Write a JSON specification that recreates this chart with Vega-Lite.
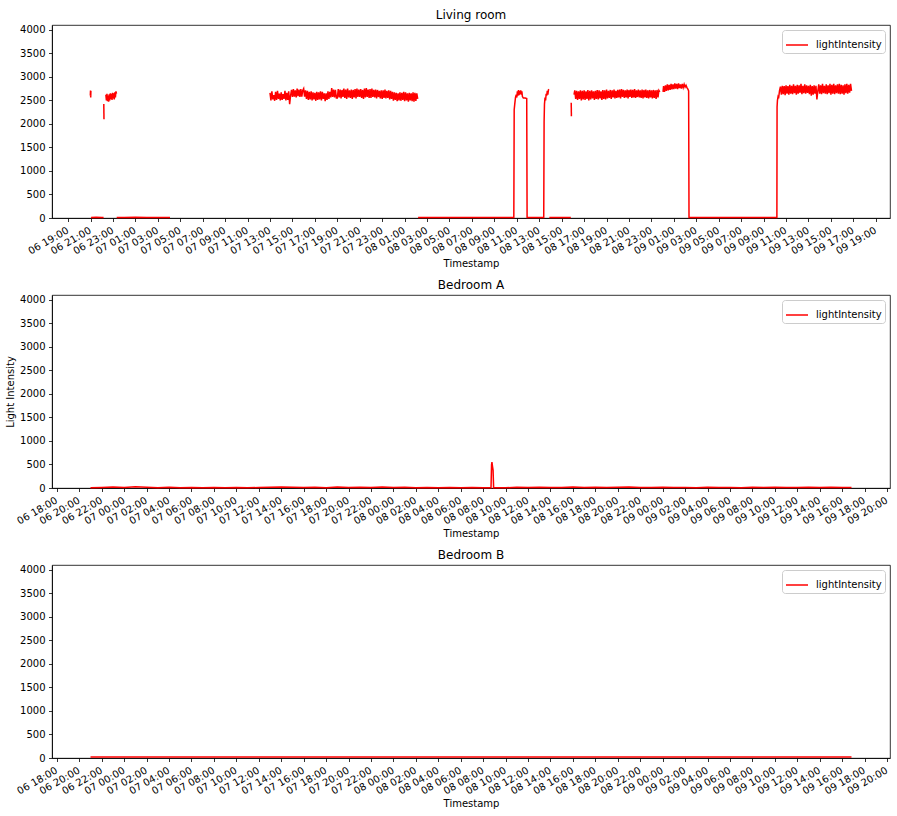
{
"$schema": "https://vega.github.io/schema/vega-lite/v6.json",
"background": "white",
"padding": {"left": 5, "top": 8, "right": 6, "bottom": 3},
"spacing": 9,
"config": {
  "font": "DejaVu Sans",
  "view": {"stroke": "#000000", "strokeWidth": 0.8},
  "axis": {"domainColor": "#000000", "domainWidth": 0.8, "tickColor": "#000000", "tickWidth": 0.8, "tickSize": 3.5, "labelColor": "#000000", "titleColor": "#000000", "labelFontSize": 10, "titleFontSize": 10, "titleFontWeight": "normal", "grid": false, "labelPadding": 3.5},
  "axisX": {"labelAngle": -30, "labelAlign": "right", "labelBaseline": "top", "labelOverlap": false, "labelFlush": false, "titlePadding": 2, "labelOffset": -3},
  "axisY": {"labelOverlap": false, "titlePadding": 4, "format": "d"},
  "title": {"fontSize": 12, "fontWeight": "normal", "color": "#000000", "offset": 3},
  "legend": {"orient": "top-right", "offset": 5, "symbolType": "stroke", "symbolSize": 484, "symbolStrokeWidth": 1.5, "labelFontSize": 10, "labelColor": "#000000", "strokeColor": "#cccccc", "fillColor": "#ffffff", "padding": 3, "cornerRadius": 3, "labelOffset": 7}
},
"resolve": {"scale": {"color": "independent"}, "legend": {"color": "independent"}},
"datasets": {
"living": [
{"s":1,"t":"2020-01-06T20:59","v":2600},{"s":1,"t":"2020-01-06T21:00","v":2710},{"s":1,"t":"2020-01-06T21:01","v":2560},{"s":1,"t":"2020-01-06T21:02","v":2700},
{"s":2,"t":"2020-01-06T21:03","v":10},{"s":2,"t":"2020-01-06T21:30","v":14},{"s":2,"t":"2020-01-06T22:00","v":10},{"s":2,"t":"2020-01-06T22:10","v":12},
{"s":3,"t":"2020-01-06T22:11","v":2420},{"s":3,"t":"2020-01-06T22:12","v":2100},
{"s":4,"t":"2020-01-06T22:22","v":2620},{"s":4,"t":"2020-01-06T22:25","v":2500},{"s":4,"t":"2020-01-06T22:28","v":2640},{"s":4,"t":"2020-01-06T22:31","v":2480},{"s":4,"t":"2020-01-06T22:34","v":2600},{"s":4,"t":"2020-01-06T22:37","v":2470},{"s":4,"t":"2020-01-06T22:40","v":2630},{"s":4,"t":"2020-01-06T22:43","v":2500},{"s":4,"t":"2020-01-06T22:46","v":2650},{"s":4,"t":"2020-01-06T22:49","v":2530},{"s":4,"t":"2020-01-06T22:52","v":2640},{"s":4,"t":"2020-01-06T22:55","v":2510},{"s":4,"t":"2020-01-06T22:58","v":2660},{"s":4,"t":"2020-01-06T23:01","v":2540},{"s":4,"t":"2020-01-06T23:04","v":2650},{"s":4,"t":"2020-01-06T23:07","v":2520},{"s":4,"t":"2020-01-06T23:10","v":2670},{"s":4,"t":"2020-01-06T23:13","v":2560},{"s":4,"t":"2020-01-06T23:16","v":2690},{"s":4,"t":"2020-01-06T23:19","v":2640},
{"s":5,"t":"2020-01-06T23:20","v":12},{"s":5,"t":"2020-01-07T00:00","v":10},{"s":5,"t":"2020-01-07T01:00","v":14},{"s":5,"t":"2020-01-07T02:00","v":10},{"s":5,"t":"2020-01-07T03:00","v":13},{"s":5,"t":"2020-01-07T04:05","v":10},
{"s":6,"t":"2020-01-07T13:00","v":2660},{"s":6,"t":"2020-01-07T13:05","v":2500},{"s":6,"t":"2020-01-07T13:10","v":2690},{"s":6,"t":"2020-01-07T13:15","v":2520},{"s":6,"t":"2020-01-07T13:20","v":2610},{"s":6,"t":"2020-01-07T13:25","v":2490},{"s":6,"t":"2020-01-07T13:30","v":2680},{"s":6,"t":"2020-01-07T13:35","v":2510},{"s":6,"t":"2020-01-07T13:40","v":2700},{"s":6,"t":"2020-01-07T13:45","v":2530},{"s":6,"t":"2020-01-07T13:50","v":2640},{"s":6,"t":"2020-01-07T13:55","v":2500},
{"s":6,"t":"2020-01-07T14:00","v":2670},{"s":6,"t":"2020-01-07T14:05","v":2510},{"s":6,"t":"2020-01-07T14:10","v":2630},{"s":6,"t":"2020-01-07T14:15","v":2530},{"s":6,"t":"2020-01-07T14:20","v":2700},{"s":6,"t":"2020-01-07T14:25","v":2500},{"s":6,"t":"2020-01-07T14:30","v":2660},{"s":6,"t":"2020-01-07T14:35","v":2510},{"s":6,"t":"2020-01-07T14:40","v":2690},{"s":6,"t":"2020-01-07T14:45","v":2420},{"s":6,"t":"2020-01-07T14:50","v":2600},{"s":6,"t":"2020-01-07T14:55","v":2720},
{"s":6,"t":"2020-01-07T15:00","v":2570},{"s":6,"t":"2020-01-07T15:05","v":2740},{"s":6,"t":"2020-01-07T15:10","v":2580},{"s":6,"t":"2020-01-07T15:15","v":2710},{"s":6,"t":"2020-01-07T15:20","v":2560},{"s":6,"t":"2020-01-07T15:25","v":2750},{"s":6,"t":"2020-01-07T15:30","v":2590},{"s":6,"t":"2020-01-07T15:35","v":2730},{"s":6,"t":"2020-01-07T15:40","v":2570},{"s":6,"t":"2020-01-07T15:45","v":2740},{"s":6,"t":"2020-01-07T15:50","v":2580},{"s":6,"t":"2020-01-07T15:55","v":2710},
{"s":6,"t":"2020-01-07T16:00","v":2750},{"s":6,"t":"2020-01-07T16:05","v":2580},{"s":6,"t":"2020-01-07T16:10","v":2710},{"s":6,"t":"2020-01-07T16:15","v":2530},{"s":6,"t":"2020-01-07T16:20","v":2700},{"s":6,"t":"2020-01-07T16:25","v":2510},{"s":6,"t":"2020-01-07T16:30","v":2680},{"s":6,"t":"2020-01-07T16:35","v":2520},{"s":6,"t":"2020-01-07T16:40","v":2690},{"s":6,"t":"2020-01-07T16:45","v":2500},{"s":6,"t":"2020-01-07T16:50","v":2670},{"s":6,"t":"2020-01-07T16:55","v":2520},
{"s":6,"t":"2020-01-07T17:00","v":2660},{"s":6,"t":"2020-01-07T17:05","v":2490},{"s":6,"t":"2020-01-07T17:10","v":2680},{"s":6,"t":"2020-01-07T17:15","v":2510},{"s":6,"t":"2020-01-07T17:20","v":2670},{"s":6,"t":"2020-01-07T17:25","v":2520},{"s":6,"t":"2020-01-07T17:30","v":2690},{"s":6,"t":"2020-01-07T17:35","v":2500},{"s":6,"t":"2020-01-07T17:40","v":2680},{"s":6,"t":"2020-01-07T17:45","v":2530},{"s":6,"t":"2020-01-07T17:50","v":2650},{"s":6,"t":"2020-01-07T17:55","v":2480},
{"s":6,"t":"2020-01-07T18:00","v":2650},{"s":6,"t":"2020-01-07T18:05","v":2510},{"s":6,"t":"2020-01-07T18:10","v":2690},{"s":6,"t":"2020-01-07T18:15","v":2530},{"s":6,"t":"2020-01-07T18:20","v":2680},{"s":6,"t":"2020-01-07T18:25","v":2560},{"s":6,"t":"2020-01-07T18:30","v":2760},{"s":6,"t":"2020-01-07T18:35","v":2570},{"s":6,"t":"2020-01-07T18:40","v":2730},{"s":6,"t":"2020-01-07T18:45","v":2560},{"s":6,"t":"2020-01-07T18:50","v":2720},{"s":6,"t":"2020-01-07T18:55","v":2550},
{"s":6,"t":"2020-01-07T19:00","v":2550},{"s":6,"t":"2020-01-07T19:05","v":2740},{"s":6,"t":"2020-01-07T19:10","v":2560},{"s":6,"t":"2020-01-07T19:15","v":2730},{"s":6,"t":"2020-01-07T19:20","v":2540},{"s":6,"t":"2020-01-07T19:25","v":2720},{"s":6,"t":"2020-01-07T19:30","v":2570},{"s":6,"t":"2020-01-07T19:35","v":2750},{"s":6,"t":"2020-01-07T19:40","v":2550},{"s":6,"t":"2020-01-07T19:45","v":2730},{"s":6,"t":"2020-01-07T19:50","v":2530},{"s":6,"t":"2020-01-07T19:55","v":2750},
{"s":6,"t":"2020-01-07T20:00","v":2560},{"s":6,"t":"2020-01-07T20:05","v":2710},{"s":6,"t":"2020-01-07T20:10","v":2550},{"s":6,"t":"2020-01-07T20:15","v":2730},{"s":6,"t":"2020-01-07T20:20","v":2530},{"s":6,"t":"2020-01-07T20:25","v":2720},{"s":6,"t":"2020-01-07T20:30","v":2560},{"s":6,"t":"2020-01-07T20:35","v":2740},{"s":6,"t":"2020-01-07T20:40","v":2540},{"s":6,"t":"2020-01-07T20:45","v":2750},{"s":6,"t":"2020-01-07T20:50","v":2570},{"s":6,"t":"2020-01-07T20:55","v":2730},
{"s":6,"t":"2020-01-07T21:00","v":2570},{"s":6,"t":"2020-01-07T21:05","v":2740},{"s":6,"t":"2020-01-07T21:10","v":2550},{"s":6,"t":"2020-01-07T21:15","v":2720},{"s":6,"t":"2020-01-07T21:20","v":2530},{"s":6,"t":"2020-01-07T21:25","v":2750},{"s":6,"t":"2020-01-07T21:30","v":2560},{"s":6,"t":"2020-01-07T21:35","v":2760},{"s":6,"t":"2020-01-07T21:40","v":2570},{"s":6,"t":"2020-01-07T21:45","v":2730},{"s":6,"t":"2020-01-07T21:50","v":2550},{"s":6,"t":"2020-01-07T21:55","v":2740},
{"s":6,"t":"2020-01-07T22:00","v":2550},{"s":6,"t":"2020-01-07T22:05","v":2750},{"s":6,"t":"2020-01-07T22:10","v":2570},{"s":6,"t":"2020-01-07T22:15","v":2720},{"s":6,"t":"2020-01-07T22:20","v":2560},{"s":6,"t":"2020-01-07T22:25","v":2730},{"s":6,"t":"2020-01-07T22:30","v":2540},{"s":6,"t":"2020-01-07T22:35","v":2720},{"s":6,"t":"2020-01-07T22:40","v":2570},{"s":6,"t":"2020-01-07T22:45","v":2700},{"s":6,"t":"2020-01-07T22:50","v":2540},{"s":6,"t":"2020-01-07T22:55","v":2710},
{"s":6,"t":"2020-01-07T23:00","v":2530},{"s":6,"t":"2020-01-07T23:05","v":2710},{"s":6,"t":"2020-01-07T23:10","v":2550},{"s":6,"t":"2020-01-07T23:15","v":2730},{"s":6,"t":"2020-01-07T23:20","v":2540},{"s":6,"t":"2020-01-07T23:25","v":2700},{"s":6,"t":"2020-01-07T23:30","v":2550},{"s":6,"t":"2020-01-07T23:35","v":2710},{"s":6,"t":"2020-01-07T23:40","v":2520},{"s":6,"t":"2020-01-07T23:45","v":2700},{"s":6,"t":"2020-01-07T23:50","v":2530},{"s":6,"t":"2020-01-07T23:55","v":2680},
{"s":6,"t":"2020-01-08T00:00","v":2490},{"s":6,"t":"2020-01-08T00:05","v":2670},{"s":6,"t":"2020-01-08T00:10","v":2510},{"s":6,"t":"2020-01-08T00:15","v":2660},{"s":6,"t":"2020-01-08T00:20","v":2480},{"s":6,"t":"2020-01-08T00:25","v":2650},{"s":6,"t":"2020-01-08T00:30","v":2500},{"s":6,"t":"2020-01-08T00:35","v":2670},{"s":6,"t":"2020-01-08T00:40","v":2490},{"s":6,"t":"2020-01-08T00:45","v":2660},{"s":6,"t":"2020-01-08T00:50","v":2510},{"s":6,"t":"2020-01-08T00:55","v":2680},
{"s":6,"t":"2020-01-08T01:00","v":2480},{"s":6,"t":"2020-01-08T01:05","v":2670},{"s":6,"t":"2020-01-08T01:10","v":2500},{"s":6,"t":"2020-01-08T01:15","v":2650},{"s":6,"t":"2020-01-08T01:20","v":2470},{"s":6,"t":"2020-01-08T01:25","v":2660},{"s":6,"t":"2020-01-08T01:30","v":2500},{"s":6,"t":"2020-01-08T01:35","v":2650},{"s":6,"t":"2020-01-08T01:40","v":2480},{"s":6,"t":"2020-01-08T01:45","v":2670},{"s":6,"t":"2020-01-08T01:50","v":2470},{"s":6,"t":"2020-01-08T01:55","v":2660},
{"s":6,"t":"2020-01-08T02:00","v":2490},{"s":6,"t":"2020-01-08T02:05","v":2650},{"s":6,"t":"2020-01-08T02:10","v":2530},
{"s":7,"t":"2020-01-08T02:12","v":12},{"s":7,"t":"2020-01-08T03:00","v":10},{"s":7,"t":"2020-01-08T04:00","v":13},{"s":7,"t":"2020-01-08T05:00","v":10},{"s":7,"t":"2020-01-08T06:00","v":12},{"s":7,"t":"2020-01-08T07:00","v":10},{"s":7,"t":"2020-01-08T08:00","v":13},{"s":7,"t":"2020-01-08T09:00","v":10},{"s":7,"t":"2020-01-08T10:00","v":12},{"s":7,"t":"2020-01-08T10:44","v":10},{"s":7,"t":"2020-01-08T10:46","v":2300},{"s":7,"t":"2020-01-08T10:49","v":2420},{"s":7,"t":"2020-01-08T10:53","v":2560},{"s":7,"t":"2020-01-08T10:57","v":2620},{"s":7,"t":"2020-01-08T11:00","v":2560},{"s":7,"t":"2020-01-08T11:03","v":2690},{"s":7,"t":"2020-01-08T11:06","v":2600},{"s":7,"t":"2020-01-08T11:09","v":2720},{"s":7,"t":"2020-01-08T11:12","v":2610},{"s":7,"t":"2020-01-08T11:15","v":2700},{"s":7,"t":"2020-01-08T11:18","v":2630},{"s":7,"t":"2020-01-08T11:21","v":2710},{"s":7,"t":"2020-01-08T11:24","v":2620},{"s":7,"t":"2020-01-08T11:27","v":2690},{"s":7,"t":"2020-01-08T11:30","v":2580},{"s":7,"t":"2020-01-08T11:35","v":2550},{"s":7,"t":"2020-01-08T11:45","v":2550},{"s":7,"t":"2020-01-08T11:53","v":2540},{"s":7,"t":"2020-01-08T11:55","v":10},{"s":7,"t":"2020-01-08T12:30","v":12},{"s":7,"t":"2020-01-08T13:00","v":10},{"s":7,"t":"2020-01-08T13:24","v":10},{"s":7,"t":"2020-01-08T13:26","v":2050},{"s":7,"t":"2020-01-08T13:28","v":2420},{"s":7,"t":"2020-01-08T13:31","v":2560},{"s":7,"t":"2020-01-08T13:34","v":2500},{"s":7,"t":"2020-01-08T13:37","v":2640},{"s":7,"t":"2020-01-08T13:40","v":2600},{"s":7,"t":"2020-01-08T13:43","v":2700},{"s":7,"t":"2020-01-08T13:46","v":2620},{"s":7,"t":"2020-01-08T13:49","v":2720},{"s":7,"t":"2020-01-08T13:53","v":2730},
{"s":8,"t":"2020-01-08T13:54","v":12},{"s":8,"t":"2020-01-08T14:30","v":10},{"s":8,"t":"2020-01-08T15:00","v":13},{"s":8,"t":"2020-01-08T15:30","v":10},{"s":8,"t":"2020-01-08T15:49","v":12},
{"s":9,"t":"2020-01-08T15:51","v":2450},{"s":9,"t":"2020-01-08T15:52","v":2160},
{"s":10,"t":"2020-01-08T16:06","v":2620},{"s":10,"t":"2020-01-08T16:10","v":2710},{"s":10,"t":"2020-01-08T16:15","v":2530},{"s":10,"t":"2020-01-08T16:20","v":2700},{"s":10,"t":"2020-01-08T16:25","v":2510},{"s":10,"t":"2020-01-08T16:30","v":2690},{"s":10,"t":"2020-01-08T16:35","v":2530},{"s":10,"t":"2020-01-08T16:40","v":2710},{"s":10,"t":"2020-01-08T16:45","v":2500},{"s":10,"t":"2020-01-08T16:50","v":2700},{"s":10,"t":"2020-01-08T16:55","v":2520},
{"s":10,"t":"2020-01-08T17:00","v":2710},{"s":10,"t":"2020-01-08T17:05","v":2510},{"s":10,"t":"2020-01-08T17:10","v":2690},{"s":10,"t":"2020-01-08T17:15","v":2530},{"s":10,"t":"2020-01-08T17:20","v":2720},{"s":10,"t":"2020-01-08T17:25","v":2500},{"s":10,"t":"2020-01-08T17:30","v":2700},{"s":10,"t":"2020-01-08T17:35","v":2520},{"s":10,"t":"2020-01-08T17:40","v":2710},{"s":10,"t":"2020-01-08T17:45","v":2540},{"s":10,"t":"2020-01-08T17:50","v":2690},{"s":10,"t":"2020-01-08T17:55","v":2510},
{"s":10,"t":"2020-01-08T18:00","v":2700},{"s":10,"t":"2020-01-08T18:05","v":2530},{"s":10,"t":"2020-01-08T18:10","v":2720},{"s":10,"t":"2020-01-08T18:15","v":2520},{"s":10,"t":"2020-01-08T18:20","v":2710},{"s":10,"t":"2020-01-08T18:25","v":2540},{"s":10,"t":"2020-01-08T18:30","v":2690},{"s":10,"t":"2020-01-08T18:35","v":2510},{"s":10,"t":"2020-01-08T18:40","v":2720},{"s":10,"t":"2020-01-08T18:45","v":2530},{"s":10,"t":"2020-01-08T18:50","v":2710},{"s":10,"t":"2020-01-08T18:55","v":2520},
{"s":10,"t":"2020-01-08T19:00","v":2730},{"s":10,"t":"2020-01-08T19:05","v":2540},{"s":10,"t":"2020-01-08T19:10","v":2700},{"s":10,"t":"2020-01-08T19:15","v":2550},{"s":10,"t":"2020-01-08T19:20","v":2720},{"s":10,"t":"2020-01-08T19:25","v":2530},{"s":10,"t":"2020-01-08T19:30","v":2710},{"s":10,"t":"2020-01-08T19:35","v":2560},{"s":10,"t":"2020-01-08T19:40","v":2730},{"s":10,"t":"2020-01-08T19:45","v":2540},{"s":10,"t":"2020-01-08T19:50","v":2700},{"s":10,"t":"2020-01-08T19:55","v":2550},
{"s":10,"t":"2020-01-08T20:00","v":2720},{"s":10,"t":"2020-01-08T20:05","v":2560},{"s":10,"t":"2020-01-08T20:10","v":2730},{"s":10,"t":"2020-01-08T20:15","v":2540},{"s":10,"t":"2020-01-08T20:20","v":2740},{"s":10,"t":"2020-01-08T20:25","v":2570},{"s":10,"t":"2020-01-08T20:30","v":2720},{"s":10,"t":"2020-01-08T20:35","v":2550},{"s":10,"t":"2020-01-08T20:40","v":2710},{"s":10,"t":"2020-01-08T20:45","v":2560},{"s":10,"t":"2020-01-08T20:50","v":2730},{"s":10,"t":"2020-01-08T20:55","v":2540},
{"s":10,"t":"2020-01-08T21:00","v":2720},{"s":10,"t":"2020-01-08T21:05","v":2570},{"s":10,"t":"2020-01-08T21:10","v":2730},{"s":10,"t":"2020-01-08T21:15","v":2550},{"s":10,"t":"2020-01-08T21:20","v":2720},{"s":10,"t":"2020-01-08T21:25","v":2560},{"s":10,"t":"2020-01-08T21:30","v":2740},{"s":10,"t":"2020-01-08T21:35","v":2550},{"s":10,"t":"2020-01-08T21:40","v":2710},{"s":10,"t":"2020-01-08T21:45","v":2570},{"s":10,"t":"2020-01-08T21:50","v":2730},{"s":10,"t":"2020-01-08T21:55","v":2560},
{"s":10,"t":"2020-01-08T22:00","v":2710},{"s":10,"t":"2020-01-08T22:05","v":2550},{"s":10,"t":"2020-01-08T22:10","v":2730},{"s":10,"t":"2020-01-08T22:15","v":2540},{"s":10,"t":"2020-01-08T22:20","v":2720},{"s":10,"t":"2020-01-08T22:25","v":2560},{"s":10,"t":"2020-01-08T22:30","v":2730},{"s":10,"t":"2020-01-08T22:35","v":2550},{"s":10,"t":"2020-01-08T22:40","v":2710},{"s":10,"t":"2020-01-08T22:45","v":2540},{"s":10,"t":"2020-01-08T22:50","v":2720},{"s":10,"t":"2020-01-08T22:55","v":2560},
{"s":10,"t":"2020-01-08T23:00","v":2710},{"s":10,"t":"2020-01-08T23:05","v":2540},{"s":10,"t":"2020-01-08T23:10","v":2720},{"s":10,"t":"2020-01-08T23:15","v":2550},{"s":10,"t":"2020-01-08T23:20","v":2710},{"s":10,"t":"2020-01-08T23:25","v":2530},{"s":10,"t":"2020-01-08T23:30","v":2720},{"s":10,"t":"2020-01-08T23:35","v":2560},{"s":10,"t":"2020-01-08T23:40","v":2710},{"s":10,"t":"2020-01-08T23:45","v":2680},
{"s":11,"t":"2020-01-09T00:02","v":2680},{"s":11,"t":"2020-01-09T00:05","v":2800},{"s":11,"t":"2020-01-09T00:10","v":2680},{"s":11,"t":"2020-01-09T00:15","v":2820},{"s":11,"t":"2020-01-09T00:20","v":2700},{"s":11,"t":"2020-01-09T00:25","v":2840},{"s":11,"t":"2020-01-09T00:30","v":2710},{"s":11,"t":"2020-01-09T00:35","v":2830},{"s":11,"t":"2020-01-09T00:40","v":2720},{"s":11,"t":"2020-01-09T00:45","v":2850},{"s":11,"t":"2020-01-09T00:50","v":2730},{"s":11,"t":"2020-01-09T00:55","v":2840},{"s":11,"t":"2020-01-09T01:00","v":2740},{"s":11,"t":"2020-01-09T01:05","v":2860},{"s":11,"t":"2020-01-09T01:10","v":2750},{"s":11,"t":"2020-01-09T01:15","v":2850},{"s":11,"t":"2020-01-09T01:20","v":2740},{"s":11,"t":"2020-01-09T01:25","v":2860},{"s":11,"t":"2020-01-09T01:30","v":2760},{"s":11,"t":"2020-01-09T01:35","v":2840},{"s":11,"t":"2020-01-09T01:40","v":2750},{"s":11,"t":"2020-01-09T01:45","v":2850},{"s":11,"t":"2020-01-09T01:50","v":2770},{"s":11,"t":"2020-01-09T01:55","v":2840},{"s":11,"t":"2020-01-09T02:00","v":2780},{"s":11,"t":"2020-01-09T02:05","v":2820},{"s":11,"t":"2020-01-09T02:10","v":2770},{"s":11,"t":"2020-01-09T02:15","v":2740},{"s":11,"t":"2020-01-09T02:19","v":2700},{"s":11,"t":"2020-01-09T02:21","v":12},
{"s":11,"t":"2020-01-09T03:00","v":10},{"s":11,"t":"2020-01-09T04:00","v":13},{"s":11,"t":"2020-01-09T05:00","v":10},{"s":11,"t":"2020-01-09T06:00","v":12},{"s":11,"t":"2020-01-09T07:00","v":10},{"s":11,"t":"2020-01-09T08:00","v":13},{"s":11,"t":"2020-01-09T09:00","v":10},{"s":11,"t":"2020-01-09T10:00","v":12},{"s":11,"t":"2020-01-09T10:11","v":10},{"s":11,"t":"2020-01-09T10:12","v":2360},{"s":11,"t":"2020-01-09T10:14","v":2500},{"s":11,"t":"2020-01-09T10:17","v":2570},{"s":11,"t":"2020-01-09T10:20","v":2540},{"s":11,"t":"2020-01-09T10:25","v":2700},
{"s":11,"t":"2020-01-09T10:30","v":2790},{"s":11,"t":"2020-01-09T10:35","v":2620},{"s":11,"t":"2020-01-09T10:40","v":2810},{"s":11,"t":"2020-01-09T10:45","v":2630},{"s":11,"t":"2020-01-09T10:50","v":2800},{"s":11,"t":"2020-01-09T10:55","v":2610},
{"s":11,"t":"2020-01-09T11:00","v":2820},{"s":11,"t":"2020-01-09T11:05","v":2640},{"s":11,"t":"2020-01-09T11:10","v":2800},{"s":11,"t":"2020-01-09T11:15","v":2620},{"s":11,"t":"2020-01-09T11:20","v":2830},{"s":11,"t":"2020-01-09T11:25","v":2640},{"s":11,"t":"2020-01-09T11:30","v":2810},{"s":11,"t":"2020-01-09T11:35","v":2630},{"s":11,"t":"2020-01-09T11:40","v":2840},{"s":11,"t":"2020-01-09T11:45","v":2650},{"s":11,"t":"2020-01-09T11:50","v":2810},{"s":11,"t":"2020-01-09T11:55","v":2620},
{"s":11,"t":"2020-01-09T12:00","v":2830},{"s":11,"t":"2020-01-09T12:05","v":2640},{"s":11,"t":"2020-01-09T12:10","v":2820},{"s":11,"t":"2020-01-09T12:15","v":2660},{"s":11,"t":"2020-01-09T12:20","v":2850},{"s":11,"t":"2020-01-09T12:25","v":2630},{"s":11,"t":"2020-01-09T12:30","v":2810},{"s":11,"t":"2020-01-09T12:35","v":2650},{"s":11,"t":"2020-01-09T12:40","v":2840},{"s":11,"t":"2020-01-09T12:45","v":2640},{"s":11,"t":"2020-01-09T12:50","v":2820},{"s":11,"t":"2020-01-09T12:55","v":2660},
{"s":11,"t":"2020-01-09T13:00","v":2810},{"s":11,"t":"2020-01-09T13:05","v":2630},{"s":11,"t":"2020-01-09T13:10","v":2830},{"s":11,"t":"2020-01-09T13:15","v":2600},{"s":11,"t":"2020-01-09T13:20","v":2800},{"s":11,"t":"2020-01-09T13:25","v":2620},{"s":11,"t":"2020-01-09T13:30","v":2820},{"s":11,"t":"2020-01-09T13:35","v":2640},{"s":11,"t":"2020-01-09T13:40","v":2810},{"s":11,"t":"2020-01-09T13:45","v":2520},{"s":11,"t":"2020-01-09T13:50","v":2700},{"s":11,"t":"2020-01-09T13:55","v":2840},
{"s":11,"t":"2020-01-09T14:00","v":2640},{"s":11,"t":"2020-01-09T14:05","v":2820},{"s":11,"t":"2020-01-09T14:10","v":2630},{"s":11,"t":"2020-01-09T14:15","v":2850},{"s":11,"t":"2020-01-09T14:20","v":2650},{"s":11,"t":"2020-01-09T14:25","v":2810},{"s":11,"t":"2020-01-09T14:30","v":2640},{"s":11,"t":"2020-01-09T14:35","v":2840},{"s":11,"t":"2020-01-09T14:40","v":2630},{"s":11,"t":"2020-01-09T14:45","v":2820},{"s":11,"t":"2020-01-09T14:50","v":2650},{"s":11,"t":"2020-01-09T14:55","v":2850},
{"s":11,"t":"2020-01-09T15:00","v":2620},{"s":11,"t":"2020-01-09T15:05","v":2830},{"s":11,"t":"2020-01-09T15:10","v":2640},{"s":11,"t":"2020-01-09T15:15","v":2850},{"s":11,"t":"2020-01-09T15:20","v":2630},{"s":11,"t":"2020-01-09T15:25","v":2820},{"s":11,"t":"2020-01-09T15:30","v":2650},{"s":11,"t":"2020-01-09T15:35","v":2840},{"s":11,"t":"2020-01-09T15:40","v":2640},{"s":11,"t":"2020-01-09T15:45","v":2850},{"s":11,"t":"2020-01-09T15:50","v":2630},{"s":11,"t":"2020-01-09T15:55","v":2830},
{"s":11,"t":"2020-01-09T16:00","v":2640},{"s":11,"t":"2020-01-09T16:05","v":2820},{"s":11,"t":"2020-01-09T16:10","v":2620},{"s":11,"t":"2020-01-09T16:15","v":2840},{"s":11,"t":"2020-01-09T16:20","v":2650},{"s":11,"t":"2020-01-09T16:25","v":2850},{"s":11,"t":"2020-01-09T16:30","v":2640},{"s":11,"t":"2020-01-09T16:35","v":2830},{"s":11,"t":"2020-01-09T16:40","v":2660},{"s":11,"t":"2020-01-09T16:45","v":2850},{"s":11,"t":"2020-01-09T16:50","v":2700}
],
"bedA": [
{"t":"2020-01-06T21:00","v":5},{"t":"2020-01-06T22:00","v":12},{"t":"2020-01-06T23:00","v":20},{"t":"2020-01-07T00:00","v":8},{"t":"2020-01-07T01:00","v":25},{"t":"2020-01-07T02:00","v":15},{"t":"2020-01-07T03:00","v":6},{"t":"2020-01-07T04:00","v":18},{"t":"2020-01-07T05:00","v":4},{"t":"2020-01-07T06:00","v":10},{"t":"2020-01-07T07:00","v":3},{"t":"2020-01-07T08:00","v":8},{"t":"2020-01-07T09:00","v":5},{"t":"2020-01-07T10:00","v":12},{"t":"2020-01-07T11:00","v":6},{"t":"2020-01-07T12:00","v":9},{"t":"2020-01-07T13:00","v":15},{"t":"2020-01-07T14:00","v":22},{"t":"2020-01-07T15:00","v":18},{"t":"2020-01-07T16:00","v":10},{"t":"2020-01-07T17:00","v":14},{"t":"2020-01-07T18:00","v":7},{"t":"2020-01-07T19:00","v":20},{"t":"2020-01-07T20:00","v":9},{"t":"2020-01-07T21:00","v":16},{"t":"2020-01-07T22:00","v":11},{"t":"2020-01-07T23:00","v":19},{"t":"2020-01-08T00:00","v":8},{"t":"2020-01-08T01:00","v":14},{"t":"2020-01-08T02:00","v":6},{"t":"2020-01-08T03:00","v":12},{"t":"2020-01-08T04:00","v":5},{"t":"2020-01-08T05:00","v":9},{"t":"2020-01-08T06:00","v":4},{"t":"2020-01-08T07:00","v":10},{"t":"2020-01-08T08:00","v":6},{"t":"2020-01-08T08:42","v":5},{"t":"2020-01-08T08:45","v":500},{"t":"2020-01-08T08:47","v":550},{"t":"2020-01-08T08:50","v":460},{"t":"2020-01-08T08:53","v":380},{"t":"2020-01-08T08:56","v":5},{"t":"2020-01-08T09:00","v":8},{"t":"2020-01-08T10:00","v":6},{"t":"2020-01-08T11:00","v":15},{"t":"2020-01-08T12:00","v":10},{"t":"2020-01-08T13:00","v":18},{"t":"2020-01-08T14:00","v":9},{"t":"2020-01-08T15:00","v":12},{"t":"2020-01-08T16:00","v":20},{"t":"2020-01-08T17:00","v":10},{"t":"2020-01-08T18:00","v":16},{"t":"2020-01-08T19:00","v":8},{"t":"2020-01-08T20:00","v":14},{"t":"2020-01-08T21:00","v":19},{"t":"2020-01-08T22:00","v":9},{"t":"2020-01-08T23:00","v":12},{"t":"2020-01-09T00:00","v":17},{"t":"2020-01-09T01:00","v":8},{"t":"2020-01-09T02:00","v":10},{"t":"2020-01-09T03:00","v":5},{"t":"2020-01-09T04:00","v":14},{"t":"2020-01-09T05:00","v":9},{"t":"2020-01-09T06:00","v":12},{"t":"2020-01-09T07:00","v":7},{"t":"2020-01-09T08:00","v":15},{"t":"2020-01-09T09:00","v":10},{"t":"2020-01-09T10:00","v":18},{"t":"2020-01-09T11:00","v":12},{"t":"2020-01-09T12:00","v":9},{"t":"2020-01-09T13:00","v":16},{"t":"2020-01-09T14:00","v":11},{"t":"2020-01-09T15:00","v":14},{"t":"2020-01-09T16:00","v":8},{"t":"2020-01-09T16:50","v":10}
],
"bedB": [
{"t":"2020-01-06T21:00","v":20},{"t":"2020-01-07T06:00","v":22},{"t":"2020-01-07T18:00","v":20},{"t":"2020-01-08T06:00","v":21},{"t":"2020-01-08T18:00","v":20},{"t":"2020-01-09T06:00","v":22},{"t":"2020-01-09T16:50","v":20}
]
},
"vconcat": [
{
  "title": "Living room",
  "width": 838, "height": 193,
  "data": {"name": "living"},
  "mark": {"type": "line", "strokeWidth": 1.5},
  "encoding": {
    "x": {"field": "t", "type": "temporal", "scale": {"domain": [{"year": 2020, "month": 1, "date": 6, "hours": 17, "minutes": 34}, {"year": 2020, "month": 1, "date": 9, "hours": 20, "minutes": 16}]},
      "axis": {"title": "Timestamp", "format": "%d %H:%M", "values": [
        {"year":2020,"month":1,"date":6,"hours":19},{"year":2020,"month":1,"date":6,"hours":21},{"year":2020,"month":1,"date":6,"hours":23},
        {"year":2020,"month":1,"date":7,"hours":1},{"year":2020,"month":1,"date":7,"hours":3},{"year":2020,"month":1,"date":7,"hours":5},{"year":2020,"month":1,"date":7,"hours":7},{"year":2020,"month":1,"date":7,"hours":9},{"year":2020,"month":1,"date":7,"hours":11},{"year":2020,"month":1,"date":7,"hours":13},{"year":2020,"month":1,"date":7,"hours":15},{"year":2020,"month":1,"date":7,"hours":17},{"year":2020,"month":1,"date":7,"hours":19},{"year":2020,"month":1,"date":7,"hours":21},{"year":2020,"month":1,"date":7,"hours":23},
        {"year":2020,"month":1,"date":8,"hours":1},{"year":2020,"month":1,"date":8,"hours":3},{"year":2020,"month":1,"date":8,"hours":5},{"year":2020,"month":1,"date":8,"hours":7},{"year":2020,"month":1,"date":8,"hours":9},{"year":2020,"month":1,"date":8,"hours":11},{"year":2020,"month":1,"date":8,"hours":13},{"year":2020,"month":1,"date":8,"hours":15},{"year":2020,"month":1,"date":8,"hours":17},{"year":2020,"month":1,"date":8,"hours":19},{"year":2020,"month":1,"date":8,"hours":21},{"year":2020,"month":1,"date":8,"hours":23},
        {"year":2020,"month":1,"date":9,"hours":1},{"year":2020,"month":1,"date":9,"hours":3},{"year":2020,"month":1,"date":9,"hours":5},{"year":2020,"month":1,"date":9,"hours":7},{"year":2020,"month":1,"date":9,"hours":9},{"year":2020,"month":1,"date":9,"hours":11},{"year":2020,"month":1,"date":9,"hours":13},{"year":2020,"month":1,"date":9,"hours":15},{"year":2020,"month":1,"date":9,"hours":17},{"year":2020,"month":1,"date":9,"hours":19}
      ]}},
    "y": {"field": "v", "type": "quantitative", "scale": {"domain": [0, 4100], "nice": false}, "axis": {"title": null, "values": [0, 500, 1000, 1500, 2000, 2500, 3000, 3500, 4000]}},
    "detail": {"field": "s", "type": "nominal"},
    "color": {"datum": "lightIntensity", "type": "nominal", "scale": {"range": ["#ff0000"]}}
  }
},
{
  "title": "Bedroom A",
  "width": 838, "height": 193,
  "data": {"name": "bedA"},
  "mark": {"type": "line", "strokeWidth": 1.5},
  "encoding": {
    "x": {"field": "t", "type": "temporal", "scale": {"domain": [{"year": 2020, "month": 1, "date": 6, "hours": 17, "minutes": 34}, {"year": 2020, "month": 1, "date": 9, "hours": 20, "minutes": 16}]},
      "axis": {"title": "Timestamp", "format": "%d %H:%M", "values": [
        {"year":2020,"month":1,"date":6,"hours":18},{"year":2020,"month":1,"date":6,"hours":20},{"year":2020,"month":1,"date":6,"hours":22},
        {"year":2020,"month":1,"date":7,"hours":0},{"year":2020,"month":1,"date":7,"hours":2},{"year":2020,"month":1,"date":7,"hours":4},{"year":2020,"month":1,"date":7,"hours":6},{"year":2020,"month":1,"date":7,"hours":8},{"year":2020,"month":1,"date":7,"hours":10},{"year":2020,"month":1,"date":7,"hours":12},{"year":2020,"month":1,"date":7,"hours":14},{"year":2020,"month":1,"date":7,"hours":16},{"year":2020,"month":1,"date":7,"hours":18},{"year":2020,"month":1,"date":7,"hours":20},{"year":2020,"month":1,"date":7,"hours":22},
        {"year":2020,"month":1,"date":8,"hours":0},{"year":2020,"month":1,"date":8,"hours":2},{"year":2020,"month":1,"date":8,"hours":4},{"year":2020,"month":1,"date":8,"hours":6},{"year":2020,"month":1,"date":8,"hours":8},{"year":2020,"month":1,"date":8,"hours":10},{"year":2020,"month":1,"date":8,"hours":12},{"year":2020,"month":1,"date":8,"hours":14},{"year":2020,"month":1,"date":8,"hours":16},{"year":2020,"month":1,"date":8,"hours":18},{"year":2020,"month":1,"date":8,"hours":20},{"year":2020,"month":1,"date":8,"hours":22},
        {"year":2020,"month":1,"date":9,"hours":0},{"year":2020,"month":1,"date":9,"hours":2},{"year":2020,"month":1,"date":9,"hours":4},{"year":2020,"month":1,"date":9,"hours":6},{"year":2020,"month":1,"date":9,"hours":8},{"year":2020,"month":1,"date":9,"hours":10},{"year":2020,"month":1,"date":9,"hours":12},{"year":2020,"month":1,"date":9,"hours":14},{"year":2020,"month":1,"date":9,"hours":16},{"year":2020,"month":1,"date":9,"hours":18},{"year":2020,"month":1,"date":9,"hours":20}
      ]}},
    "y": {"field": "v", "type": "quantitative", "scale": {"domain": [0, 4100], "nice": false}, "axis": {"title": "Light Intensity", "values": [0, 500, 1000, 1500, 2000, 2500, 3000, 3500, 4000]}},
    "color": {"datum": "lightIntensity", "type": "nominal", "scale": {"range": ["#ff0000"]}}
  }
},
{
  "title": "Bedroom B",
  "width": 838, "height": 193,
  "data": {"name": "bedB"},
  "mark": {"type": "line", "strokeWidth": 1.5},
  "encoding": {
    "x": {"field": "t", "type": "temporal", "scale": {"domain": [{"year": 2020, "month": 1, "date": 6, "hours": 17, "minutes": 34}, {"year": 2020, "month": 1, "date": 9, "hours": 20, "minutes": 16}]},
      "axis": {"title": "Timestamp", "format": "%d %H:%M", "values": [
        {"year":2020,"month":1,"date":6,"hours":18},{"year":2020,"month":1,"date":6,"hours":20},{"year":2020,"month":1,"date":6,"hours":22},
        {"year":2020,"month":1,"date":7,"hours":0},{"year":2020,"month":1,"date":7,"hours":2},{"year":2020,"month":1,"date":7,"hours":4},{"year":2020,"month":1,"date":7,"hours":6},{"year":2020,"month":1,"date":7,"hours":8},{"year":2020,"month":1,"date":7,"hours":10},{"year":2020,"month":1,"date":7,"hours":12},{"year":2020,"month":1,"date":7,"hours":14},{"year":2020,"month":1,"date":7,"hours":16},{"year":2020,"month":1,"date":7,"hours":18},{"year":2020,"month":1,"date":7,"hours":20},{"year":2020,"month":1,"date":7,"hours":22},
        {"year":2020,"month":1,"date":8,"hours":0},{"year":2020,"month":1,"date":8,"hours":2},{"year":2020,"month":1,"date":8,"hours":4},{"year":2020,"month":1,"date":8,"hours":6},{"year":2020,"month":1,"date":8,"hours":8},{"year":2020,"month":1,"date":8,"hours":10},{"year":2020,"month":1,"date":8,"hours":12},{"year":2020,"month":1,"date":8,"hours":14},{"year":2020,"month":1,"date":8,"hours":16},{"year":2020,"month":1,"date":8,"hours":18},{"year":2020,"month":1,"date":8,"hours":20},{"year":2020,"month":1,"date":8,"hours":22},
        {"year":2020,"month":1,"date":9,"hours":0},{"year":2020,"month":1,"date":9,"hours":2},{"year":2020,"month":1,"date":9,"hours":4},{"year":2020,"month":1,"date":9,"hours":6},{"year":2020,"month":1,"date":9,"hours":8},{"year":2020,"month":1,"date":9,"hours":10},{"year":2020,"month":1,"date":9,"hours":12},{"year":2020,"month":1,"date":9,"hours":14},{"year":2020,"month":1,"date":9,"hours":16},{"year":2020,"month":1,"date":9,"hours":18},{"year":2020,"month":1,"date":9,"hours":20}
      ]}},
    "y": {"field": "v", "type": "quantitative", "scale": {"domain": [0, 4100], "nice": false}, "axis": {"title": null, "values": [0, 500, 1000, 1500, 2000, 2500, 3000, 3500, 4000]}},
    "color": {"datum": "lightIntensity", "type": "nominal", "scale": {"range": ["#ff0000"]}}
  }
}
]
}
